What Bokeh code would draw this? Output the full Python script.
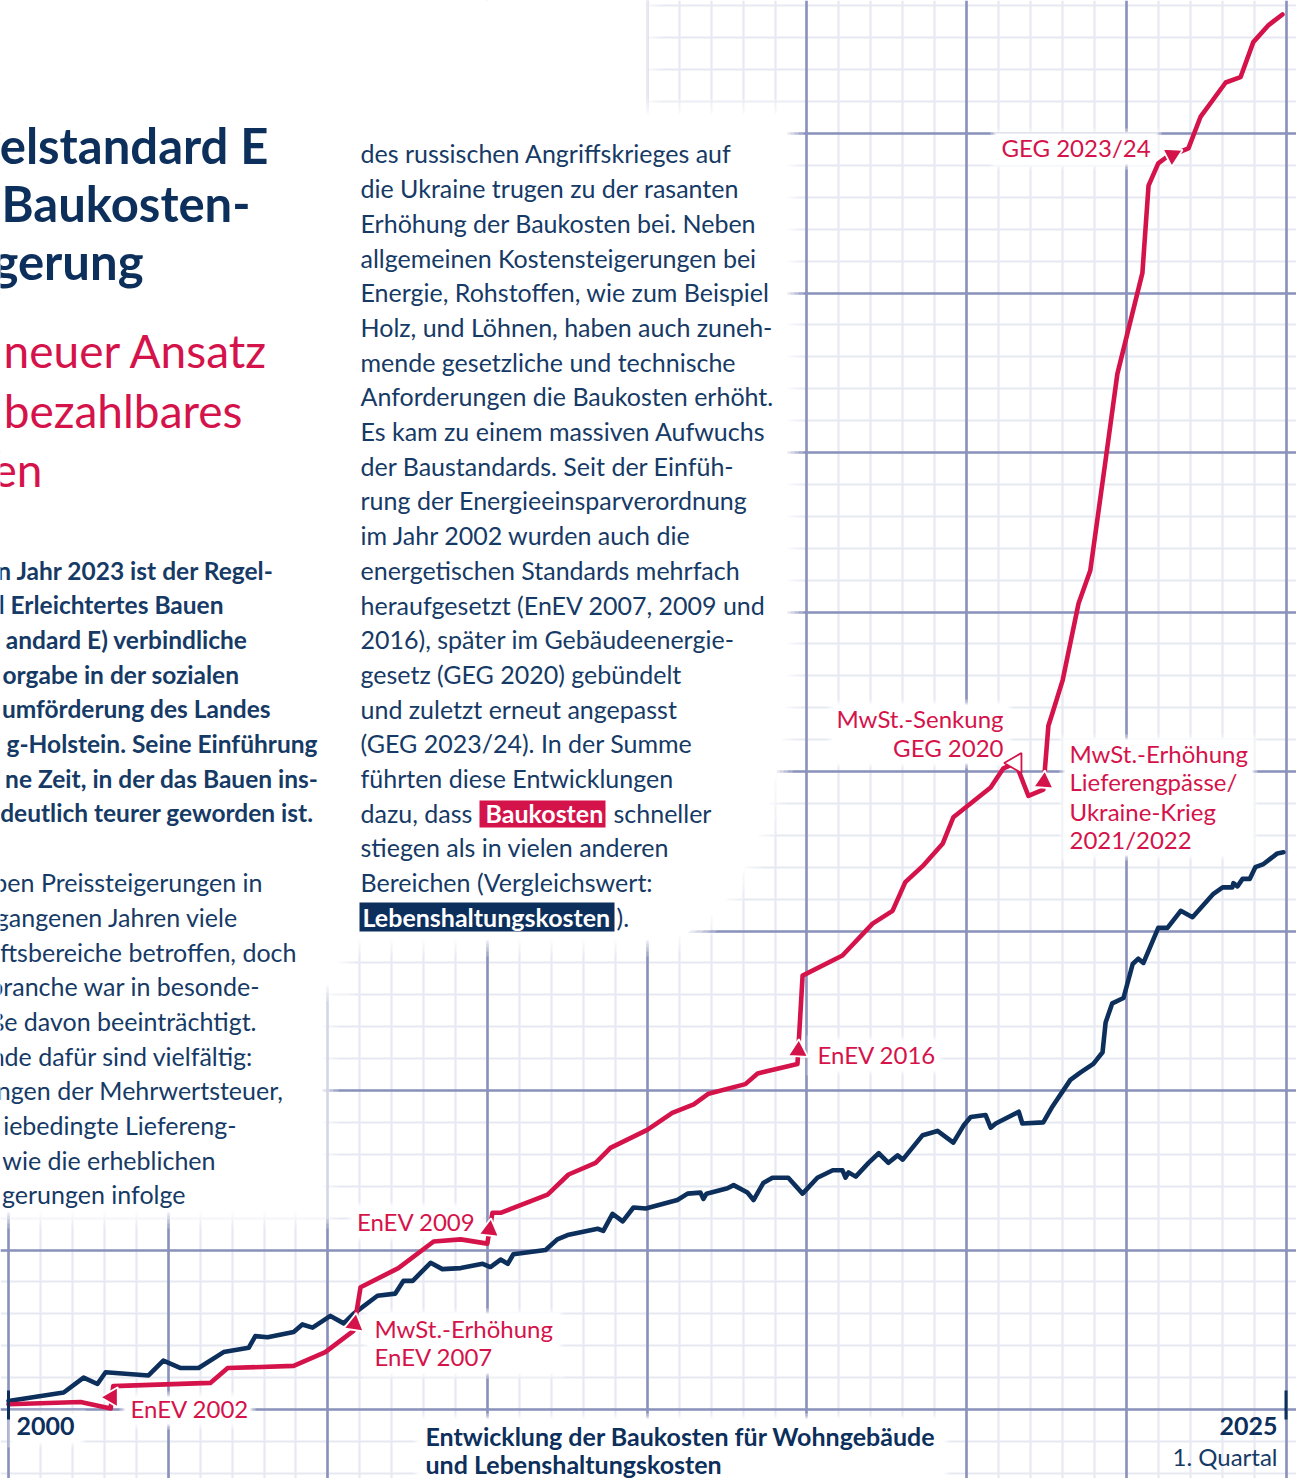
import numpy as np
from bokeh.plotting import figure
from bokeh.models import Range1d, FixedTicker, Grid
from bokeh.core.properties import value
from bokeh.embed import file_html
from bokeh.resources import INLINE

# ---------------- data (index, 2000 = 100) ----------------
bau_year = [2000.0, 2001.41, 2002.0, 2002.05, 2003.95, 2004.29, 2005.58, 2006.2, 2006.75, 2006.89,
            2007.63, 2008.32, 2008.85, 2009.37, 2009.47, 2009.63, 2010.55, 2010.96, 2011.49, 2011.78,
            2012.5, 2012.99, 2013.41, 2013.7, 2014.42, 2014.66, 2015.44, 2015.54, 2016.32, 2016.91,
            2017.3, 2017.55, 2017.91, 2018.28, 2018.49, 2019.22, 2019.47, 2019.71, 2019.96, 2020.25,
            2020.35, 2020.43, 2020.63, 2020.94, 2021.17, 2021.47, 2021.7, 2022.19, 2022.31, 2022.5,
            2022.64, 2023.09, 2023.33, 2023.82, 2024.11, 2024.36, 2024.66, 2024.93]
bau_index = [100.5, 100.7, 100.1, 102.2, 102.5, 103.9, 104.1, 105.4, 107.4, 111.5,
             113.3, 115.8, 116.0, 115.6, 118.5, 118.5, 120.2, 122.1, 123.2, 124.6,
             126.3, 127.9, 128.7, 129.7, 130.6, 131.6, 132.5, 140.8, 142.7, 145.7,
             146.9, 149.6, 151.2, 153.2, 155.7, 158.5, 160.3, 160.8, 157.7, 158.3,
             164.3, 165.5, 168.6, 175.8, 178.9, 189.3, 197.4, 206.9, 215.1, 217.2,
             217.7, 218.6, 221.6, 224.8, 225.3, 228.6, 230.2, 231.2]

lhk_year = [2000.0, 2001.08, 2001.47, 2001.74, 2001.9, 2002.74, 2003.03, 2003.37, 2003.72, 2004.21,
            2004.7, 2004.83, 2005.07, 2005.58, 2005.75, 2005.95, 2006.3, 2006.56, 2006.75, 2007.22,
            2007.57, 2007.73, 2007.91, 2008.26, 2008.49, 2008.85, 2009.28, 2009.43, 2009.63, 2009.77,
            2009.88, 2010.51, 2010.74, 2010.94, 2011.53, 2011.64, 2011.82, 2012.02, 2012.23, 2012.47,
            2013.09, 2013.29, 2013.54, 2013.6, 2013.66, 2014.07, 2014.19, 2014.46, 2014.58, 2014.77,
            2014.95, 2015.26, 2015.54, 2015.83, 2016.13, 2016.32, 2016.38, 2016.44, 2016.58, 2016.83,
            2017.03, 2017.22, 2017.4, 2017.5, 2017.89, 2018.18, 2018.49, 2018.69, 2018.83, 2019.12,
            2019.22, 2019.32, 2019.77, 2019.84, 2020.25, 2020.43, 2020.78, 2020.98, 2021.23, 2021.41,
            2021.47, 2021.6, 2021.82, 2022.0, 2022.11, 2022.21, 2022.5, 2022.68, 2022.94, 2023.17,
            2023.58, 2023.76, 2023.95, 2023.97, 2024.05, 2024.15, 2024.29, 2024.4, 2024.56, 2024.83, 2024.95]
lhk_index = [100.8, 101.6, 103.0, 102.4, 103.5, 103.2, 104.6, 103.9, 103.9, 105.4,
             105.8, 106.9, 106.8, 107.3, 108.0, 107.7, 108.8, 108.1, 109.0, 110.7,
             110.9, 112.1, 112.1, 113.8, 113.2, 113.3, 113.7, 113.4, 114.1, 113.7,
             114.6, 115.0, 116.0, 116.4, 117.0, 116.8, 118.4, 117.7, 119.0, 118.9,
             119.7, 120.3, 120.4, 119.8, 120.3, 120.8, 121.1, 120.4, 119.7, 121.3,
             121.8, 121.8, 120.3, 121.8, 122.5, 122.5, 121.8, 122.3, 121.9, 123.2,
             124.1, 123.2, 123.9, 123.5, 125.8, 126.2, 125.1, 126.7, 127.5, 127.7,
             126.5, 126.9, 128.0, 126.9, 127.0, 128.5, 131.0, 131.7, 132.5, 133.6,
             136.4, 138.2, 138.7, 141.9, 142.4, 142.0, 145.3, 145.3, 146.9, 146.3,
             148.5, 149.1, 149.1, 149.5, 149.2, 149.9, 149.9, 151.0, 151.3, 152.3, 152.4]

tick_years = [2000, 2025]
tick_labels = ["2000", "2025"]

# events on the Baukosten line: (segment start index, fraction along segment, marker angle, hollow)
events = [(2, 0.5, np.pi / 2, False),     # EnEV 2002
          (8, 0.15, -0.15, False),        # MwSt.-Erhöhung / EnEV 2007
          (13, 0.45, -0.12, False),       # EnEV 2009
          (26, 0.15, -0.05, False),       # EnEV 2016
          (37, 0.0, np.pi / 2, True),     # MwSt.-Senkung / GEG 2020
          (39, 0.12, -0.08, False),       # MwSt.-Erhöhung 2021/2022
          (50, 0.3, -1.1, False)]         # GEG 2023/24

# ---------------- styling ----------------
RED = "#d5134b"
NAVY = "#0d2f5c"
NAVY_TXT = "#163a66"
GRID_MAJOR = "#8a91bb"
GRID_MINOR = "#e7e9f2"
FONT = value("Lato")
W, H = 1296, 1478

# page-pixel -> data helpers (layout only)
def X(px):
    return 2000 + (px - 8.0) / 51.1

def Y(py):
    return 100 + (1409.0 - py) / 10.633

p = figure(width=W, height=H,
           x_range=Range1d(X(0), X(W)), y_range=Range1d(Y(H), Y(0)),
           output_backend="svg", toolbar_location=None,
           x_axis_location=None, y_axis_location=None,
           min_border=0, outline_line_color=None,
           background_fill_color="white", border_fill_color="white")
p.grid.visible = False

# graph-paper grid
minor_x = list(2000 + 0.625 * np.arange(-5, 50))
minor_y = list(100 + 3.0 * np.arange(-5, 50))
major_x = list(2000 + 3.125 * np.arange(-1, 10))
major_y = list(100 + 15.0 * np.arange(-1, 10))
p.add_layout(Grid(dimension=0, ticker=FixedTicker(ticks=minor_x), grid_line_color=GRID_MINOR, grid_line_width=2.2))
p.add_layout(Grid(dimension=1, ticker=FixedTicker(ticks=minor_y), grid_line_color=GRID_MINOR, grid_line_width=2.2))
p.add_layout(Grid(dimension=0, ticker=FixedTicker(ticks=major_x), grid_line_color=GRID_MAJOR, grid_line_width=2.6))
p.add_layout(Grid(dimension=1, ticker=FixedTicker(ticks=major_y), grid_line_color=GRID_MAJOR, grid_line_width=2.6))

# ---------------- white masks with soft edges ----------------
FADE = [(16, 0.22), (11, 0.28), (7, 0.34), (3, 0.45)]
rl, rr, rt, rb, ra = [], [], [], [], []

def soft_rect(x0, y0, x1, y1, fade=FADE):
    for e, a in list(fade) + [(0, 1.0)]:
        rl.append(X(x0 - e)); rr.append(X(x1 + e)); rt.append(Y(y0 - e)); rb.append(Y(y1 + e)); ra.append(a)

soft_rect(-40, -40, 645, 114)
soft_rect(-40, -40, 338, 985)
soft_rect(-40, 960, 322, 1212)
p.quad(left=rl, right=rr, top=rt, bottom=rb, fill_color="white", fill_alpha=ra, line_color=None)

def mid_poly(e):
    x0, y0, x1, y1 = 330 - e, 114 - e, 787 + e, 940 + e
    cx, cy, rx, ry = 657, 660, 130 + e, 280 + e
    t = np.linspace(0, np.pi / 2, 24)
    xs = [x0, x1] + list(cx + rx * np.cos(t)) + [x0]
    ys = [y0, y0] + list(cy + ry * np.sin(t)) + [y1]
    return [X(v) for v in xs], [Y(v) for v in ys]

for e, a in FADE + [(0, 1.0)]:
    xs, ys = mid_poly(e)
    p.patch(xs, ys, fill_color="white", fill_alpha=a, line_color=None)

# label backgrounds
bl, br, bt, bb, ba = [], [], [], [], []
for (x0, y0, x1, y1) in [(124, 1396, 250, 1424), (368, 1313, 558, 1373), (352, 1206, 480, 1237),
                         (811, 1040, 938, 1070), (832, 704, 1007, 763), (1064, 739, 1252, 855),
                         (995, 133, 1156, 164), (418, 1418, 944, 1490), (12, 1414, 80, 1442)]:
    for e, a in [(5, 0.35), (2, 0.5), (0, 1.0)]:
        bl.append(X(x0 - e)); br.append(X(x1 + e)); bt.append(Y(y0 - e)); bb.append(Y(y1 + e)); ba.append(a)
p.quad(left=bl, right=br, top=bt, bottom=bb, fill_color="white", fill_alpha=ba, line_color=None)

# ---------------- series ----------------
p.line(lhk_year, lhk_index, line_color=NAVY, line_width=4.6, line_join="round", line_cap="round")
p.line(bau_year, bau_index, line_color=RED, line_width=4.6, line_join="round", line_cap="round")

# axis end ticks
p.segment(x0=tick_years, x1=tick_years, y0=[Y(1390)] * 2, y1=[Y(1419)] * 2, line_color=NAVY, line_width=3)

# event arrowheads
ax, ay, ang, fc, lc = [], [], [], [], []
for i, f, a, hollow in events:
    ax.append(bau_year[i] + f * (bau_year[i + 1] - bau_year[i]))
    ay.append(bau_index[i] + f * (bau_index[i + 1] - bau_index[i]))
    ang.append(a)
    fc.append("white" if hollow else RED)
    lc.append(RED if hollow else "white")
p.scatter(ax, ay, marker="triangle", size=20, angle=ang, fill_color=fc, line_color=lc, line_width=1.8)

# ---------------- text ----------------
BASE_SHIFT = 0.39  # renderer puts the em-middle at y; shift so the given y is the baseline

def texts(items, size, color, bold=False, align="left"):
    p.text(x=[X(i[0]) for i in items], y=[Y(i[1] - BASE_SHIFT * size) for i in items], text=[i[2] for i in items],
           text_font=FONT, text_font_size=f"{size}px", text_color=color,
           text_font_style="bold" if bold else "normal", text_align=align, text_baseline="alphabetic")

texts([(268, 164, "elstandard E"), (250, 222, "Baukosten-"), (143, 280, "gerung")], 49, NAVY, True, "right")
texts([(268, 368, "neuer Ansatz"), (242, 428, "bezahlbares"), (42, 487, "en")], 46, RED, False, "right")

lead = [("n Jahr 2023 ist der Regel-", 274), ("l Erleichtertes Bauen", 223), ("andard E) verbindliche", 247),
        ("orgabe in der sozialen", 239), ("umförderung des Landes", 270), ("g-Holstein. Seine Einführung", 317),
        ("ne Zeit, in der das Bauen ins-", 318), ("deutlich teurer geworden ist.", 313)]
texts([(r, 579.1 + 34.7 * k, s) for k, (s, r) in enumerate(lead)], 24.5, NAVY_TXT, True, "right")

body_left = [("ben Preissteigerungen in", 262), ("gangenen Jahren viele", 238), ("ftsbereiche betroffen, doch", 296),
             ("branche war in besonde-", 260), ("ße davon beeinträchtigt.", 256), ("nde dafür sind vielfältig:", 253),
             ("ngen der Mehrwertsteuer,", 283), ("iebedingte Liefereng-", 236), ("wie die erheblichen", 215),
             ("gerungen infolge", 185)]
texts([(r, 891.4 + 34.7 * k, s) for k, (s, r) in enumerate(body_left)], 25, NAVY_TXT, False, "right")

body_mid = ["des russischen Angriffskrieges auf", "die Ukraine trugen zu der rasanten",
            "Erhöhung der Baukosten bei. Neben", "allgemeinen Kostensteigerungen bei",
            "Energie, Rohstoffen, wie zum Beispiel", "Holz, und Löhnen, haben auch zuneh-",
            "mende gesetzliche und technische", "Anforderungen die Baukosten erhöht.",
            "Es kam zu einem massiven Aufwuchs", "der Baustandards. Seit der Einfüh-",
            "rung der Energieeinsparverordnung", "im Jahr 2002 wurden auch die",
            "energetischen Standards mehrfach", "heraufgesetzt (EnEV 2007, 2009 und",
            "2016), später im Gebäudeenergie-", "gesetz (GEG 2020) gebündelt",
            "und zuletzt erneut angepasst", "(GEG 2023/24). In der Summe",
            "führten diese Entwicklungen", "dazu, dass", "stiegen als in vielen anderen",
            "Bereichen (Vergleichswert:"]
texts([(360, 162.7 + 34.7 * k, s) for k, s in enumerate(body_mid)], 25, NAVY_TXT)
texts([(613, 162.7 + 34.7 * 19, "schneller"), (616, 162.7 + 34.7 * 22, ").")], 25, NAVY_TXT)

# highlighted words
p.quad(left=[X(479), X(359)], right=[X(605), X(614)], top=[Y(800), Y(902)], bottom=[Y(827), Y(931)],
       fill_color=[RED, NAVY], line_color=None)
texts([(485, 162.7 + 34.7 * 19, "Baukosten"), (362, 162.7 + 34.7 * 22, "Lebenshaltungskosten")], 25, "white", True)

# chart annotations
texts([(130, 1417, "EnEV 2002"), (374, 1337, "MwSt.-Erhöhung"), (374, 1365, "EnEV 2007"),
       (817, 1063, "EnEV 2016"), (1069, 762, "MwSt.-Erhöhung"), (1069, 790, "Lieferengpässe/"),
       (1069, 820, "Ukraine-Krieg"), (1069, 848, "2021/2022"), (1001, 156, "GEG 2023/24")], 24, RED)
texts([(475, 1230, "EnEV 2009"), (1003, 727, "MwSt.-Senkung"), (1003, 756, "GEG 2020")], 24, RED, False, "right")

# axis labels and caption
texts([(16, 1435, tick_labels[0])], 25, NAVY, True)
texts([(1277, 1435, tick_labels[1])], 25, NAVY, True, "right")
texts([(1277, 1465, "1. Quartal")], 24, NAVY_TXT, False, "right")
texts([(425, 1445, "Entwicklung der Baukosten für Wohngebäude"), (425, 1473, "und Lebenshaltungskosten")],
      25, NAVY, True)

open("out.html", "w").write(file_html(p, INLINE))
